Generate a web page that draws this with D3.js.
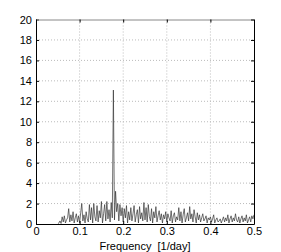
<!DOCTYPE html>
<html><head><meta charset="utf-8">
<script src="https://cdn.jsdelivr.net/npm/d3@7"></script>
<style>
html,body{margin:0;padding:0;background:#fff;}
text{font-family:"Liberation Sans",Arial,Helvetica,sans-serif;}
</style></head>
<body><svg id="c" width="281" height="252"></svg>
<script>
const xTicks = [0, 0.1, 0.2, 0.3, 0.4, 0.5];
const xTickLabels = ["0", "0.1", "0.2", "0.3", "0.4", "0.5"];
const yTicks = [0, 2, 4, 6, 8, 10, 12, 14, 16, 18, 20];
const xLabel = "Frequency  [1/day]";
const freqStart = 0.05;
const freqStep = 0.0025;
const power = [
0,0.1,0.3,0.05,0.7,0.2,0.8,0.1,0.4,0.6,1.5,0.2,0.9,0.3,1.2,0.1,0.6,1.0,0.2,0.8,
0.1,1.1,2.0,0.3,0.9,0.1,1.2,0.5,0.2,1.9,0.4,1.6,0.1,2.0,0.7,0.3,1.8,0.2,1.3,0.6,
2.2,0.1,1.0,1.9,0.3,2.2,0.5,1.4,0.2,2.1,0.6,13.1,0.4,3.2,1.2,2.0,0.3,1.9,0.8,1.6,
0.2,1.5,0.6,1.8,0.1,1.2,0.4,1.6,0.3,1.0,1.8,0.2,0.9,1.4,0.1,1.7,0.5,1.1,0.3,2.1,
0.4,1.6,0.2,1.9,0.7,0.3,1.5,0.1,1.2,0.6,1.7,0.2,0.8,1.3,0.4,1.0,0.1,0.9,0.5,1.2,
0.2,1.0,0.6,0.3,1.3,0.1,0.8,1.1,0.2,0.7,0.4,1.6,0.3,1.2,0.1,0.9,1.5,0.2,0.6,1.1,
0.3,1.7,0.5,1.0,0.2,1.4,0.7,0.1,1.1,0.4,0.9,0.2,0.6,1.0,0.3,0.5,0.8,0.1,0.6,0.4,
0.7,0.2,0.5,0.9,0.1,0.4,0.6,0.2,0.3,0.5,0.1,0.4,0.7,0.2,0.6,0.3,0.9,0.1,0.5,0.8,
0.2,0.6,0.3,1.0,0.4,0.2,0.7,0.1,0.5,0.8,0.2,0.6,0.3,0.9,0.1,0.4,0.7,0.2,0.8,0.5,0.9
];
const data = power.map((v, i) => ({f: freqStart + i * freqStep, p: v}));

const m = {l: 36, r: 254, t: 19.5, b: 224};
const svg = d3.select("#c");
const x = d3.scaleLinear().domain([0, 0.5]).range([m.l, m.r]);
const y = d3.scaleLinear().domain([0, 20]).range([m.b, m.t]);

// grid
const g = svg.append("g");
g.selectAll(".gx").data(xTicks.slice(1, -1)).join("line")
  .attr("x1", d => x(d)).attr("x2", d => x(d)).attr("y1", m.t).attr("y2", m.b)
  .attr("stroke", "#bbb").attr("stroke-width", 1).attr("stroke-dasharray", "1,2");
g.selectAll(".gy").data(yTicks.slice(1, -1)).join("line")
  .attr("y1", d => y(d)).attr("y2", d => y(d)).attr("x1", m.l).attr("x2", m.r)
  .attr("stroke", "#bbb").attr("stroke-width", 1).attr("stroke-dasharray", "1,2");

// data line
const line = d3.line().x(d => x(d.f)).y(d => y(d.p));
svg.append("path").datum(data).attr("d", line)
  .attr("fill", "none").attr("stroke", "#333").attr("stroke-width", 0.7);

// axes
const xa = svg.append("g").attr("transform", `translate(0,${m.b})`)
  .call(d3.axisBottom(x).tickValues(xTicks).tickFormat((d, i) => xTickLabels[i]).tickSizeInner(-3).tickSizeOuter(0).tickPadding(3));
const ya = svg.append("g").attr("transform", `translate(${m.l},0)`)
  .call(d3.axisLeft(y).tickValues(yTicks).tickFormat(d3.format("d")).tickSizeInner(-3).tickSizeOuter(0).tickPadding(4));
const xt = svg.append("g").attr("transform", `translate(0,${m.t})`)
  .call(d3.axisTop(x).tickValues(xTicks).tickFormat("").tickSizeInner(-3).tickSizeOuter(0));
const yr = svg.append("g").attr("transform", `translate(${m.r},0)`)
  .call(d3.axisRight(y).tickValues(yTicks).tickFormat("").tickSizeInner(-3).tickSizeOuter(0));
[xa, ya, xt, yr].forEach(a => {
  a.selectAll("path,line").attr("stroke", "#000");
  a.selectAll("text").attr("font-size", 11).attr("fill", "#000")
   .attr("font-family", "'Liberation Sans', Arial, sans-serif");
});
xt.select("path").attr("stroke", "#888");

svg.append("text").attr("x", (m.l + m.r) / 2).attr("y", 250)
  .attr("text-anchor", "middle").attr("font-size", 11)
  .style("white-space", "pre").text(xLabel);
</script></body></html>
